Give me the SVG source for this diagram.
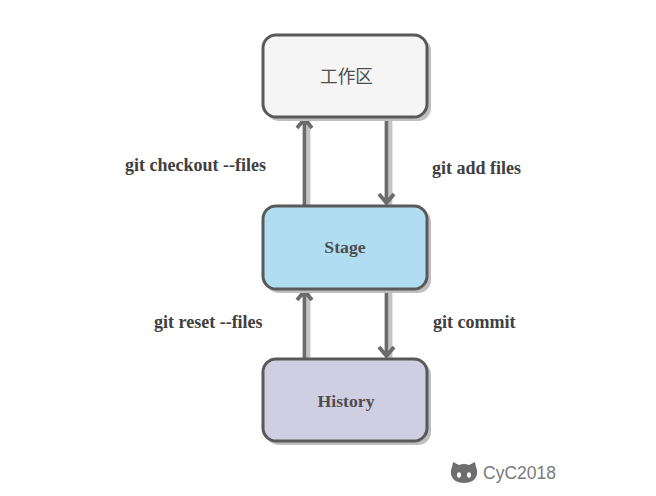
<svg xmlns="http://www.w3.org/2000/svg" width="656" height="496" viewBox="0 0 656 496">
<style>
.box{stroke:#595959;stroke-width:3}
.sh{fill:#bfbfbf}
.l{font-family:"Liberation Serif","Noto Sans CJK SC",serif;font-weight:bold;font-size:18px;fill:#404040}
.n{font-family:"Liberation Serif","Noto Sans CJK SC",serif;font-weight:bold;font-size:17.700px;fill:#4d4d4d;text-anchor:middle}
.c{fill:none;stroke:#6b6b6b;stroke-width:3.800}
.s{fill:none;stroke:#c4c4c4;stroke-width:3.800}
</style>
<rect width="656" height="496" fill="#fff"/>
<g id="connectors">
<path class="s" d="M308.500 120V207M390.500 120V206M308.500 292V362M390.500 292V358"/>
<path class="c" d="M304.500 119V206M297 128L304.500 119L312 128"/>
<path class="c" d="M386.500 118V203M379 194L386.500 203L394 194"/>
<path class="c" d="M304.500 291V361M297 300L304.500 291L312 300"/>
<path class="c" d="M386.500 289V356M379 347L386.500 356L394 347"/>
</g>
<g id="n1">
<rect class="sh" x="266" y="38" width="165" height="83" rx="13"/>
<rect class="box" x="263" y="35" width="164" height="82" rx="13" fill="#f5f5f5"/>
<text class="n" x="346.500" y="83" style="font-weight:normal;font-family:'Noto Sans CJK SC',serif">工作区</text>
</g>
<g id="n2">
<rect class="sh" x="266" y="209" width="165" height="84" rx="13"/>
<rect class="box" x="263" y="206" width="164" height="83" rx="13" fill="#b1ddf0"/>
<text class="n" x="345" y="253">Stage</text>
</g>
<g id="n3">
<rect class="sh" x="266" y="362" width="165" height="83" rx="13"/>
<rect class="box" x="263" y="359" width="164" height="82" rx="13" fill="#d0cee2"/>
<text class="n" x="346" y="407">History</text>
</g>
<text class="l" x="125" y="171">git checkout --files</text>
<text class="l" x="432" y="174">git add files</text>
<text class="l" x="154" y="328">git reset --files</text>
<text class="l" x="433" y="328">git commit</text>
<g id="logo">
<path fill="#6e6e6e" d="M452 467L453 462L459 465Q464 463 469 465L475 462L476 467Q478 471 476.500 476Q474 483 464 483Q454 483 451.500 476Q450 471 452 467Z"/>
<ellipse cx="459" cy="475" rx="2" ry="2.800" fill="#fff"/>
<ellipse cx="469" cy="475" rx="2" ry="2.800" fill="#fff"/>
<text x="483" y="479" style="font-family:'Liberation Sans',sans-serif;font-size:17.500px;fill:#7a7a7a">CyC2018</text>
</g>
</svg>
